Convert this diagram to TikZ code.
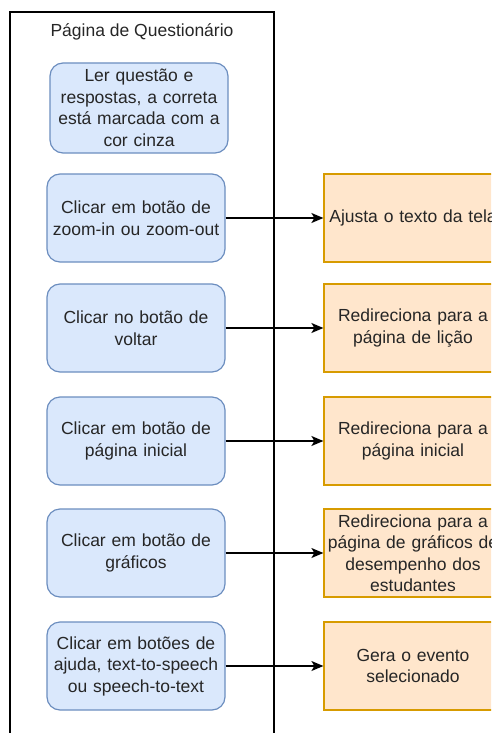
\documentclass[tikz,border=0pt]{standalone}
\usepackage{fontspec}
\setmainfont{Liberation Sans}
\usepackage{tikz}
\usetikzlibrary{shapes,arrows,arrows.meta,calc,positioning}
\definecolor{acaofill}{HTML}{DAE8FC}
\definecolor{acaodraw}{HTML}{6C8EBF}
\definecolor{respfill}{HTML}{FFE6CC}
\definecolor{respdraw}{HTML}{D79B00}
\tikzset{
  acao/.style={
    rectangle,
    rounded corners=13pt,
    fill=acaofill,
    draw=acaodraw, line width=1.2pt,
    minimum width=178pt,
    minimum height=88pt,
    inner xsep=0pt,
    text width=178pt,
    align=center},
  resposta/.style={
    rectangle,
    fill=respfill,
    draw=respdraw, line width=1.2pt,
    minimum width=178pt,
    minimum height=88pt,
    inner xsep=0pt,
    text width=178pt,
    align=center},
  seta/.style={draw, line width=1.4pt, -{Stealth[length=12pt,width=10pt,inset=3pt]}},
}

\begin{document}
\begin{tikzpicture}[
    x=1pt, y=-1pt,
    every node/.style={text=black!85, font=\fontsize{17.5}{21.5}\selectfont},
    moldura/.style={draw=black, line width=1.3pt}
    ]

	\useasboundingbox (0,0) rectangle (491,733);
	\clip (0,0) rectangle (491,733);

	% pagina
	\draw[moldura] (10,12) rectangle (274,760);
	\node (titulo) at (142,32) {Página de Questionário};

	% acoes do usuario
	\node[acao, minimum height=90pt] (ler) at (139,108)
	    {Ler questão e\\respostas, a correta\\está marcada com a\\cor cinza};
	\node[acao] (zoom) at (136,218) {Clicar em botão de\\zoom-in ou zoom-out};
	\node[acao] (voltar) at (136,328) {Clicar no botão de\\voltar};
	\node[acao] (inicial) at (136,441) {Clicar em botão de\\página inicial};
	\node[acao] (graficos) at (136,553) {Clicar em botão de\\gráficos};
	\node[acao] (ajuda) at (136,666)
	    {Clicar em botões de\\ajuda, text-to-speech\\ou speech-to-text};

	% respostas do sistema
	\node[resposta] (ajusta) at (413,218) {Ajusta o texto da tela};
	\node[resposta] (licao) at (413,328) {Redireciona para a\\página de lição};
	\node[resposta] (rinicial) at (413,441) {Redireciona para a\\página inicial};
	\node[resposta] (rgraficos) at (413,553)
	    {Redireciona para a\\página de gráficos de\\desempenho dos\\estudantes};
	\node[resposta] (evento) at (413,666) {Gera o evento\\selecionado};

	\draw[seta] (zoom) -- (ajusta);
	\draw[seta] (voltar) -- (licao);
	\draw[seta] (inicial) -- (rinicial);
	\draw[seta] (graficos) -- (rgraficos);
	\draw[seta] (ajuda) -- (evento);

\end{tikzpicture}
\end{document}
